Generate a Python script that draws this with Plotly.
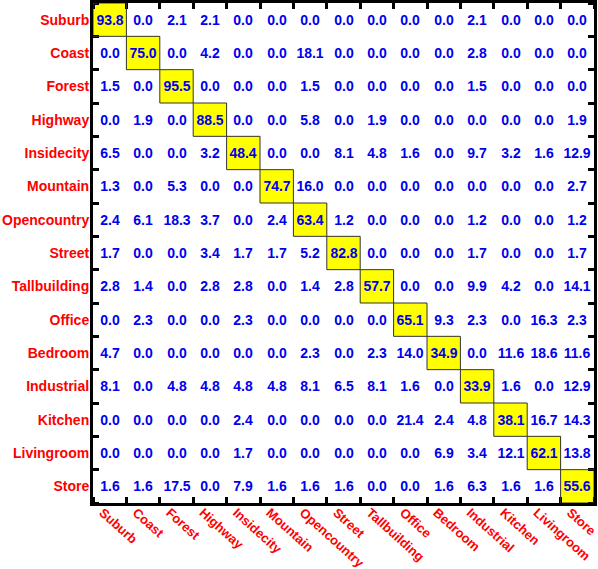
import plotly.graph_objects as go

categories = ["Suburb", "Coast", "Forest", "Highway", "Insidecity", "Mountain",
              "Opencountry", "Street", "Tallbuilding", "Office", "Bedroom",
              "Industrial", "Kitchen", "Livingroom", "Store"]

suburb      = [93.8, 0.0, 2.1, 2.1, 0.0, 0.0, 0.0, 0.0, 0.0, 0.0, 0.0, 2.1, 0.0, 0.0, 0.0]
coast       = [0.0, 75.0, 0.0, 4.2, 0.0, 0.0, 18.1, 0.0, 0.0, 0.0, 0.0, 2.8, 0.0, 0.0, 0.0]
forest      = [1.5, 0.0, 95.5, 0.0, 0.0, 0.0, 1.5, 0.0, 0.0, 0.0, 0.0, 1.5, 0.0, 0.0, 0.0]
highway     = [0.0, 1.9, 0.0, 88.5, 0.0, 0.0, 5.8, 0.0, 1.9, 0.0, 0.0, 0.0, 0.0, 0.0, 1.9]
insidecity  = [6.5, 0.0, 0.0, 3.2, 48.4, 0.0, 0.0, 8.1, 4.8, 1.6, 0.0, 9.7, 3.2, 1.6, 12.9]
mountain    = [1.3, 0.0, 5.3, 0.0, 0.0, 74.7, 16.0, 0.0, 0.0, 0.0, 0.0, 0.0, 0.0, 0.0, 2.7]
opencountry = [2.4, 6.1, 18.3, 3.7, 0.0, 2.4, 63.4, 1.2, 0.0, 0.0, 0.0, 1.2, 0.0, 0.0, 1.2]
street      = [1.7, 0.0, 0.0, 3.4, 1.7, 1.7, 5.2, 82.8, 0.0, 0.0, 0.0, 1.7, 0.0, 0.0, 1.7]
tallbuilding= [2.8, 1.4, 0.0, 2.8, 2.8, 0.0, 1.4, 2.8, 57.7, 0.0, 0.0, 9.9, 4.2, 0.0, 14.1]
office      = [0.0, 2.3, 0.0, 0.0, 2.3, 0.0, 0.0, 0.0, 0.0, 65.1, 9.3, 2.3, 0.0, 16.3, 2.3]
bedroom     = [4.7, 0.0, 0.0, 0.0, 0.0, 0.0, 2.3, 0.0, 2.3, 14.0, 34.9, 0.0, 11.6, 18.6, 11.6]
industrial  = [8.1, 0.0, 4.8, 4.8, 4.8, 4.8, 8.1, 6.5, 8.1, 1.6, 0.0, 33.9, 1.6, 0.0, 12.9]
kitchen     = [0.0, 0.0, 0.0, 0.0, 2.4, 0.0, 0.0, 0.0, 0.0, 21.4, 2.4, 4.8, 38.1, 16.7, 14.3]
livingroom  = [0.0, 0.0, 0.0, 0.0, 1.7, 0.0, 0.0, 0.0, 0.0, 0.0, 6.9, 3.4, 12.1, 62.1, 13.8]
store       = [1.6, 1.6, 17.5, 0.0, 7.9, 1.6, 1.6, 1.6, 0.0, 0.0, 1.6, 6.3, 1.6, 1.6, 55.6]

matrix = [suburb, coast, forest, highway, insidecity, mountain, opencountry, street,
          tallbuilding, office, bedroom, industrial, kitchen, livingroom, store]

n = len(categories)
idx = list(range(n))
highlight = [[1 if i == j else 0 for j in idx] for i in idx]
text = [[f"{v:.1f}" for v in row] for row in matrix]

FONT = "Liberation Sans, Arial, sans-serif"

fig = go.Figure(go.Heatmap(
    z=highlight, x=idx, y=idx, text=text, texttemplate="%{text}",
    textfont=dict(family=FONT, size=14, color="#0000ee", weight="bold"),
    colorscale=[[0, "white"], [1, "#ffff00"]], showscale=False, zmin=0, zmax=1,
    hoverinfo="skip",
))

for i in idx:
    fig.add_shape(type="rect", x0=i - 0.5, x1=i + 0.5, y0=i - 0.5, y1=i + 0.5,
                  line=dict(color="#333333", width=1), layer="above")

bounds = [k - 0.5 for k in range(n + 1)]
axis_common = dict(
    tickmode="array", tickvals=idx, ticktext=categories, ticks="", showgrid=False,
    zeroline=False, showline=True, linecolor="black", linewidth=3, mirror="allticks",
    tickfont=dict(family=FONT, size=14, color="#ff0000", weight="bold"),
    range=[-0.5, n - 0.5], automargin=False, ticklabeloverflow="allow",
    minor=dict(tickvals=bounds, ticks="inside", ticklen=6, tickwidth=3, tickcolor="black",
               showgrid=True, gridcolor="#888888", griddash="dot", gridwidth=1),
)

fig.update_xaxes(**axis_common)
fig.update_xaxes(tickangle=42, ticklabelshift=-7, ticklabelstandoff=-6,
                 tickfont=dict(family=FONT, size=13, color="#ff0000", weight="bold"))
fig.update_yaxes(**axis_common, ticklabelstandoff=-2)
fig.update_yaxes(range=[n - 0.5, -0.5])

fig.update_layout(
    width=598, height=569, margin=dict(l=93, r=4, t=3, b=66),
    plot_bgcolor="white", paper_bgcolor="white",
)

fig.write_html("out.html", config={"displayModeBar": False},
               post_script="document.body.style.margin='0';")
